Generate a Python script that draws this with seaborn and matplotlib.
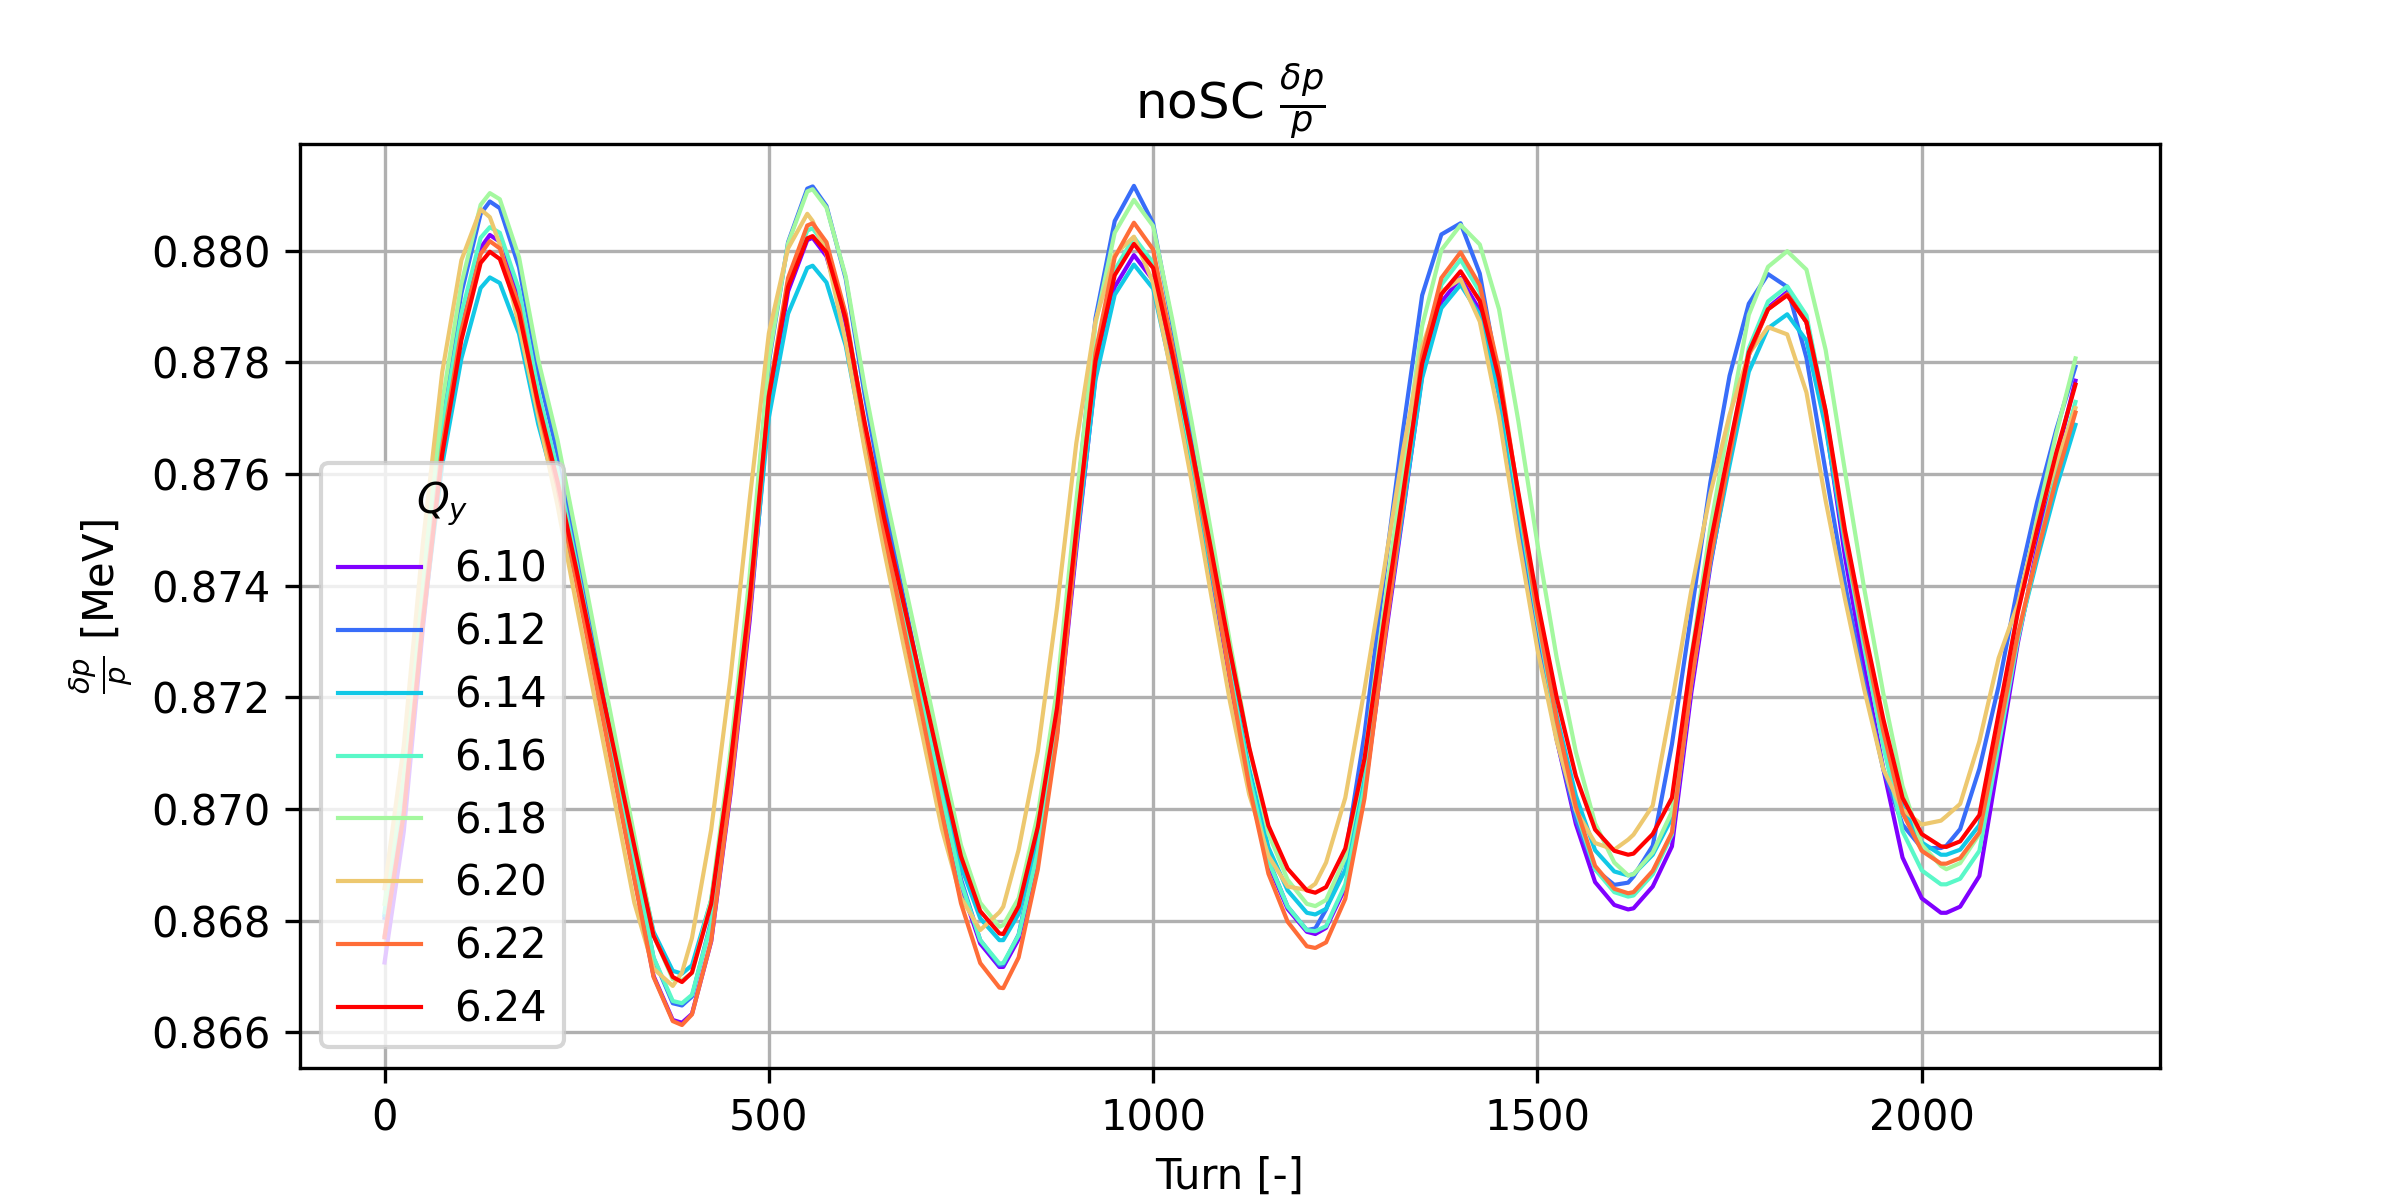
import matplotlib
matplotlib.use("Agg")
import matplotlib.pyplot as plt
import seaborn as sns
import pandas as pd
import numpy as np

# turn grid (every 25 turns) and dp/p, one list per Qy
turns = list(range(0, 2201, 25))

qy_labels = ["6.10", "6.12", "6.14", "6.16", "6.18", "6.20", "6.22", "6.24"]

qy_610 = [0.86725, 0.86959, 0.87325, 0.87644, 0.87862, 0.88005, 0.88016, 0.87913, 0.87729, 0.87586,
          0.87412, 0.87232, 0.87055, 0.86878, 0.86701, 0.86622, 0.86633, 0.86763, 0.87026, 0.87337,
          0.87722, 0.87927, 0.88019, 0.87990, 0.87869, 0.87671, 0.87495, 0.87336, 0.87179, 0.87017,
          0.86861, 0.86759, 0.86717, 0.86767, 0.86914, 0.87135, 0.87464, 0.87775, 0.87935, 0.87992,
          0.87947, 0.87785, 0.87610, 0.87423, 0.87230, 0.87048, 0.86901, 0.86821, 0.86780, 0.86787,
          0.86859, 0.87030, 0.87286, 0.87529, 0.87777, 0.87908, 0.87951, 0.87893, 0.87742, 0.87523,
          0.87311, 0.87125, 0.86973, 0.86869, 0.86828, 0.86822, 0.86861, 0.86933, 0.87206, 0.87436,
          0.87628, 0.87813, 0.87898, 0.87926, 0.87872, 0.87692, 0.87453, 0.87255, 0.87072, 0.86913,
          0.86840, 0.86814, 0.86825, 0.86880, 0.87088, 0.87297, 0.87468, 0.87627, 0.87767]

qy_612 = [0.86805, 0.87035, 0.87396, 0.87710, 0.87924, 0.88066, 0.88076, 0.87970, 0.87782, 0.87636,
          0.87459, 0.87275, 0.87094, 0.86914, 0.86733, 0.86652, 0.86664, 0.86799, 0.87074, 0.87399,
          0.87800, 0.88015, 0.88111, 0.88080, 0.87950, 0.87739, 0.87551, 0.87381, 0.87213, 0.87040,
          0.86874, 0.86765, 0.86720, 0.86775, 0.86936, 0.87177, 0.87538, 0.87879, 0.88053, 0.88116,
          0.88049, 0.87867, 0.87673, 0.87466, 0.87256, 0.87062, 0.86909, 0.86825, 0.86783, 0.86820,
          0.86916, 0.87134, 0.87411, 0.87677, 0.87920, 0.88029, 0.88049, 0.87959, 0.87767, 0.87533,
          0.87310, 0.87126, 0.86982, 0.86892, 0.86864, 0.86879, 0.86934, 0.87116, 0.87348, 0.87585,
          0.87776, 0.87905, 0.87958, 0.87935, 0.87808, 0.87604, 0.87404, 0.87227, 0.87071, 0.86972,
          0.86930, 0.86930, 0.86964, 0.87072, 0.87220, 0.87398, 0.87549, 0.87679, 0.87792]

qy_614 = [0.86810, 0.87015, 0.87337, 0.87616, 0.87807, 0.87933, 0.87942, 0.87851, 0.87689, 0.87562,
          0.87408, 0.87249, 0.87093, 0.86937, 0.86780, 0.86710, 0.86720, 0.86837, 0.87075, 0.87355,
          0.87701, 0.87887, 0.87969, 0.87943, 0.87830, 0.87648, 0.87485, 0.87337, 0.87192, 0.87042,
          0.86898, 0.86804, 0.86765, 0.86812, 0.86952, 0.87161, 0.87474, 0.87769, 0.87921, 0.87975,
          0.87932, 0.87777, 0.87610, 0.87430, 0.87245, 0.87072, 0.86931, 0.86854, 0.86814, 0.86821,
          0.86891, 0.87055, 0.87301, 0.87534, 0.87772, 0.87897, 0.87939, 0.87885, 0.87743, 0.87539,
          0.87340, 0.87167, 0.87024, 0.86926, 0.86888, 0.86883, 0.86918, 0.86984, 0.87232, 0.87441,
          0.87616, 0.87783, 0.87861, 0.87886, 0.87839, 0.87683, 0.87475, 0.87302, 0.87143, 0.87004,
          0.86940, 0.86918, 0.86927, 0.86971, 0.87139, 0.87308, 0.87446, 0.87575, 0.87688]

qy_616 = [0.86815, 0.87035, 0.87381, 0.87682, 0.87887, 0.88023, 0.88032, 0.87930, 0.87748, 0.87607,
          0.87436, 0.87258, 0.87083, 0.86909, 0.86734, 0.86656, 0.86667, 0.86795, 0.87055, 0.87363,
          0.87742, 0.87945, 0.88036, 0.88007, 0.87884, 0.87685, 0.87508, 0.87347, 0.87189, 0.87025,
          0.86868, 0.86765, 0.86723, 0.86774, 0.86924, 0.87149, 0.87485, 0.87803, 0.87965, 0.88024,
          0.87978, 0.87812, 0.87633, 0.87441, 0.87243, 0.87058, 0.86907, 0.86825, 0.86783, 0.86790,
          0.86865, 0.87039, 0.87302, 0.87551, 0.87806, 0.87939, 0.87984, 0.87926, 0.87773, 0.87553,
          0.87338, 0.87151, 0.86997, 0.86892, 0.86851, 0.86845, 0.86883, 0.86954, 0.87224, 0.87452,
          0.87642, 0.87825, 0.87909, 0.87936, 0.87884, 0.87711, 0.87481, 0.87290, 0.87113, 0.86960,
          0.86890, 0.86865, 0.86875, 0.86925, 0.87113, 0.87303, 0.87458, 0.87602, 0.87729]

qy_618 = [0.86830, 0.87058, 0.87417, 0.87728, 0.87941, 0.88082, 0.88092, 0.87988, 0.87804, 0.87661,
          0.87486, 0.87306, 0.87129, 0.86952, 0.86774, 0.86695, 0.86706, 0.86837, 0.87103, 0.87417,
          0.87806, 0.88013, 0.88106, 0.88077, 0.87954, 0.87754, 0.87576, 0.87415, 0.87256, 0.87092,
          0.86935, 0.86832, 0.86789, 0.86840, 0.86990, 0.87215, 0.87552, 0.87869, 0.88032, 0.88091,
          0.88044, 0.87876, 0.87694, 0.87499, 0.87298, 0.87109, 0.86956, 0.86873, 0.86830, 0.86837,
          0.86913, 0.87090, 0.87355, 0.87608, 0.87865, 0.88001, 0.88046, 0.88011, 0.87895, 0.87696,
          0.87475, 0.87271, 0.87102, 0.86974, 0.86904, 0.86883, 0.86922, 0.86995, 0.87271, 0.87504,
          0.87698, 0.87885, 0.87971, 0.87999, 0.87966, 0.87822, 0.87606, 0.87396, 0.87207, 0.87041,
          0.86936, 0.86898, 0.86903, 0.86955, 0.87155, 0.87356, 0.87520, 0.87672, 0.87807]

qy_620 = [0.86858, 0.87113, 0.87478, 0.87782, 0.87983, 0.88074, 0.88011, 0.87865, 0.87704, 0.87544,
          0.87363, 0.87187, 0.87010, 0.86832, 0.86714, 0.86683, 0.86769, 0.86963, 0.87234, 0.87553,
          0.87852, 0.88004, 0.88066, 0.87995, 0.87837, 0.87641, 0.87463, 0.87295, 0.87131, 0.86965,
          0.86841, 0.86783, 0.86815, 0.86927, 0.87103, 0.87361, 0.87655, 0.87874, 0.87993, 0.88025,
          0.87942, 0.87771, 0.87587, 0.87387, 0.87192, 0.87026, 0.86916, 0.86861, 0.86855, 0.86904,
          0.87020, 0.87214, 0.87424, 0.87640, 0.87828, 0.87927, 0.87949, 0.87873, 0.87703, 0.87487,
          0.87286, 0.87122, 0.86998, 0.86939, 0.86927, 0.86954, 0.87006, 0.87191, 0.87390, 0.87565,
          0.87706, 0.87815, 0.87863, 0.87850, 0.87746, 0.87552, 0.87377, 0.87215, 0.87071, 0.86999,
          0.86972, 0.86979, 0.87009, 0.87121, 0.87270, 0.87367, 0.87509, 0.87621, 0.87718]

qy_622 = [0.86773, 0.86996, 0.87346, 0.87649, 0.87857, 0.87994, 0.88004, 0.87901, 0.87719, 0.87577,
          0.87404, 0.87226, 0.87050, 0.86874, 0.86699, 0.86620, 0.86632, 0.86764, 0.87032, 0.87350,
          0.87742, 0.87951, 0.88045, 0.88015, 0.87887, 0.87680, 0.87496, 0.87328, 0.87164, 0.86994,
          0.86831, 0.86724, 0.86680, 0.86734, 0.86892, 0.87129, 0.87482, 0.87817, 0.87988, 0.88050,
          0.88002, 0.87829, 0.87642, 0.87442, 0.87235, 0.87041, 0.86884, 0.86798, 0.86754, 0.86761,
          0.86839, 0.87019, 0.87291, 0.87549, 0.87812, 0.87951, 0.87997, 0.87938, 0.87785, 0.87563,
          0.87347, 0.87159, 0.87004, 0.86898, 0.86857, 0.86851, 0.86889, 0.86958, 0.87223, 0.87447,
          0.87633, 0.87813, 0.87895, 0.87922, 0.87872, 0.87708, 0.87488, 0.87307, 0.87139, 0.86993,
          0.86925, 0.86902, 0.86912, 0.86958, 0.87134, 0.87312, 0.87456, 0.87591, 0.87710]

qy_624 = [0.86770, 0.86990, 0.87335, 0.87635, 0.87840, 0.87978, 0.87985, 0.87888, 0.87726, 0.87587,
          0.87426, 0.87260, 0.87097, 0.86933, 0.86773, 0.86699, 0.86707, 0.86830, 0.87080, 0.87376,
          0.87739, 0.87935, 0.88022, 0.87997, 0.87878, 0.87690, 0.87521, 0.87370, 0.87218, 0.87064,
          0.86915, 0.86817, 0.86777, 0.86826, 0.86968, 0.87181, 0.87500, 0.87802, 0.87956, 0.88012,
          0.87969, 0.87814, 0.87647, 0.87468, 0.87283, 0.87110, 0.86970, 0.86893, 0.86854, 0.86860,
          0.86929, 0.87090, 0.87333, 0.87564, 0.87798, 0.87922, 0.87963, 0.87910, 0.87770, 0.87568,
          0.87372, 0.87200, 0.87059, 0.86963, 0.86925, 0.86920, 0.86955, 0.87020, 0.87268, 0.87476,
          0.87650, 0.87818, 0.87895, 0.87920, 0.87872, 0.87713, 0.87500, 0.87324, 0.87161, 0.87020,
          0.86955, 0.86933, 0.86942, 0.86989, 0.87170, 0.87352, 0.87500, 0.87638, 0.87760]

# extra samples at the turns of the peaks / troughs (off the 25-turn grid)
ext_turns = [137, 387, 557, 805, 1211, 1618, 2032]
ext_610 = [0.88028, 0.86617, 0.88023, 0.86717, 0.86776, 0.86820, 0.86814]
ext_612 = [0.88088, 0.86648, 0.88115, 0.86721, 0.86786, 0.86868, 0.86934]
ext_614 = [0.87952, 0.86705, 0.87973, 0.86765, 0.86811, 0.86881, 0.86918]
ext_616 = [0.88042, 0.86652, 0.88040, 0.86724, 0.86781, 0.86843, 0.86865]
ext_618 = [0.88103, 0.86693, 0.88110, 0.86792, 0.86826, 0.86881, 0.86892]
ext_620 = [0.88060, 0.86707, 0.88053, 0.86825, 0.86866, 0.86945, 0.86987]
ext_622 = [0.88017, 0.86613, 0.88049, 0.86679, 0.86751, 0.86849, 0.86902]
ext_624 = [0.87998, 0.86690, 0.88026, 0.86776, 0.86850, 0.86918, 0.86932]

series = [qy_610, qy_612, qy_614, qy_616, qy_618, qy_620, qy_622, qy_624]
extras = [ext_610, ext_612, ext_614, ext_616, ext_618, ext_620, ext_622, ext_624]

frames = []
for label, vals, ext in zip(qy_labels, series, extras):
    frames.append(pd.DataFrame({"turn": turns + ext_turns, "dpp": vals + ext, "Qy": label}))
df = pd.concat(frames, ignore_index=True)
df = df.sort_values(["Qy", "turn"]).reset_index(drop=True)

colors = [plt.cm.rainbow(v) for v in np.linspace(0, 1, len(qy_labels))]

fig, ax = plt.subplots(figsize=(8, 4), dpi=300)
sns.lineplot(data=df, x="turn", y="dpp", hue="Qy", hue_order=qy_labels,
             palette=colors, estimator=None, sort=False, linewidth=1, ax=ax)

ax.set_xlim(-110, 2310)
ax.set_ylim(0.86536, 0.88191)
ax.grid(True)
ax.set_title(r"noSC $\frac{\delta p}{p}$")
ax.set_xlabel("Turn [-]")
ax.set_ylabel(r"$\frac{\delta p}{p}$ [MeV]")
sns.move_legend(ax, "lower left", title=r"$Q_y$")

fig.savefig("out.png", dpi=300)
